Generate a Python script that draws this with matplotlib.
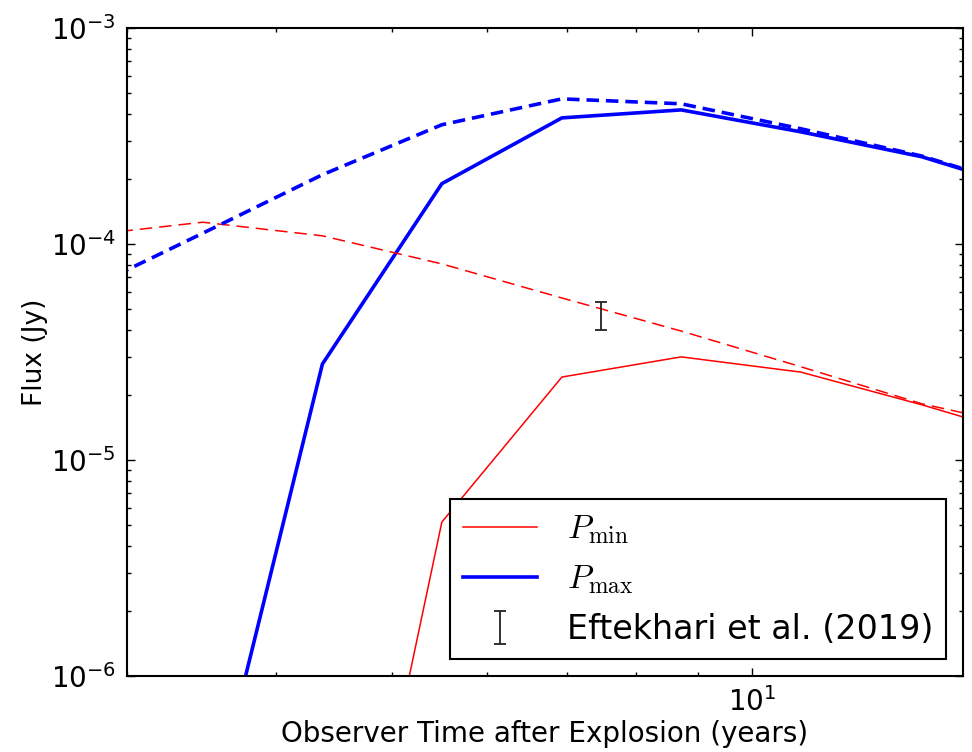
import matplotlib
matplotlib.use("Agg")
import matplotlib.pyplot as plt
from matplotlib.ticker import NullFormatter
from matplotlib.font_manager import FontProperties

# Observer time grid (years) shared by all model curves
t_years = [2.75, 3.47, 4.37, 5.50, 6.93, 8.72, 10.98, 13.86, 17.4]

# Model light curves (Jy)
pmin_solid = [1e-10, 1e-9, 1.25e-8, 5.16e-6, 2.42e-5, 3.00e-5, 2.55e-5, 1.80e-5, 1.24e-5]
pmax_solid = [1e-9, 1.56e-7, 2.78e-5, 1.90e-4, 3.83e-4, 4.17e-4, 3.30e-4, 2.53e-4, 1.72e-4]
pmin_dashed = [1.09e-4, 1.26e-4, 1.09e-4, 8.08e-5, 5.62e-5, 3.95e-5, 2.70e-5, 1.82e-5, 1.38e-5]
pmax_dashed = [6.0e-5, 1.12e-4, 2.09e-4, 3.56e-4, 4.69e-4, 4.45e-4, 3.41e-4, 2.55e-4, 1.73e-4]

# Eftekhari et al. (2019) measurement
obs_t = [7.47]
obs_flux = [4.7e-5]
obs_err = [0.7e-5]

plt.rcParams["lines.scale_dashes"] = False

fig = plt.figure(figsize=(9.72, 7.52), dpi=100)
ax = fig.add_axes([0.1307, 0.101, 0.86, 0.862])

ax.plot(t_years, pmin_solid, color="red", linewidth=1.1, label=r"$P_{\rm min}$")
ax.plot(t_years, pmax_solid, color="blue", linewidth=2.6, label=r"$P_{\rm max}$")
ax.plot(t_years, pmin_dashed, color="red", linewidth=1.1, dashes=(9, 5))
ax.plot(t_years, pmax_dashed, color="blue", linewidth=2.6, dashes=(9, 5))
ax.errorbar(obs_t, obs_flux, yerr=obs_err, fmt="none", ecolor="#222222",
            elinewidth=1.3, capsize=4, capthick=1.3,
            label="Eftekhari et al. (2019)")

ax.set_xscale("log")
ax.set_yscale("log")
ax.set_xlim(3, 15)
ax.set_ylim(1e-6, 1e-3)
ax.xaxis.set_minor_formatter(NullFormatter())

ax.set_xlabel("Observer Time after Explosion (years)", fontsize=20, labelpad=2)
ax.set_ylabel("Flux (Jy)", fontsize=19)
ax.yaxis.set_label_coords(-0.094, 0.5)

ax.tick_params(which="both", direction="in", top=True, right=True)
ax.tick_params(which="major", length=6, width=1, labelsize=20, pad=8)
ax.tick_params(which="minor", length=3, width=1)
for sp in ax.spines.values():
    sp.set_linewidth(1.5)

leg_font = FontProperties(family="DejaVu Sans", size=24, math_fontfamily="cm")
leg = ax.legend(loc="lower right", prop=leg_font, handlelength=2.2,
                handletextpad=0.9, fancybox=False, framealpha=1,
                edgecolor="black", borderaxespad=0.5)
leg.get_frame().set_linewidth(1.5)

plt.savefig("out.png", dpi=100)
plt.close()
